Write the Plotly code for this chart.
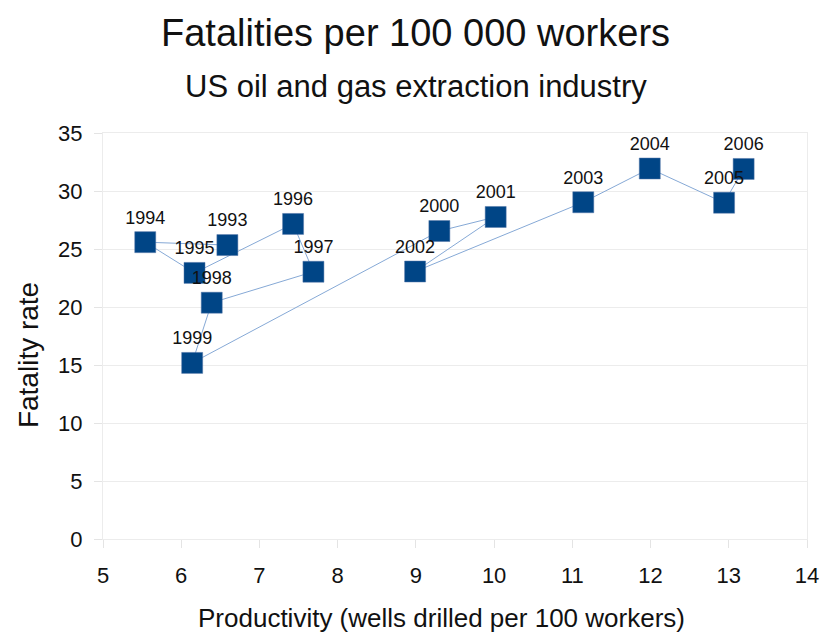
import plotly.graph_objects as go

years = ["1993", "1994", "1995", "1996", "1997", "1998", "1999",
         "2000", "2001", "2002", "2003", "2004", "2005", "2006"]
productivity = [6.59, 5.54, 6.17, 7.43, 7.69, 6.39, 6.14,
                9.30, 10.02, 8.99, 11.14, 11.99, 12.94, 13.19]
fatality_rate = [25.34, 25.59, 22.94, 27.16, 23.04, 20.37, 15.18,
                 26.55, 27.76, 23.06, 29.03, 31.94, 28.99, 31.90]

x_ticks = list(range(5, 15))
y_ticks = list(range(0, 36, 5))

FONT = "Liberation Sans, Arial, sans-serif"
INK = "#111111"

fig = go.Figure()
fig.add_trace(go.Scatter(
    x=productivity, y=fatality_rate, text=years,
    mode="lines+markers+text",
    textposition="top center",
    textfont=dict(family=FONT, size=18, color=INK),
    line=dict(color="#86a9d6", width=1),
    marker=dict(symbol="square", size=21, color="#004586",
                line=dict(width=0.5, color="#5577a8")),
    showlegend=False,
    cliponaxis=False,
))

axis_common = dict(
    showline=True, mirror=True, linecolor="#ececec", linewidth=1,
    ticks="outside", ticklen=8, tickcolor="#e4e4e4",
    zeroline=False,
    tickfont=dict(family=FONT, size=22, color=INK),
)

fig.update_layout(
    width=820, height=634,
    margin=dict(l=103, r=13, t=133, b=95, autoexpand=False),
    paper_bgcolor="white", plot_bgcolor="white",
    font=dict(family=FONT, color=INK),
    xaxis=dict(range=[5, 14], tickvals=x_ticks, showgrid=False,
               ticklabelstandoff=9, **axis_common),
    yaxis=dict(range=[0, 35], tickvals=y_ticks,
               showgrid=True, gridcolor="#ececec", gridwidth=1,
               ticklabelstandoff=7, **axis_common),
    annotations=[
        dict(text="Fatalities per 100 000 workers", xref="paper", yref="paper",
             x=0.4446, y=1, yshift=100, xanchor="center", yanchor="middle",
             showarrow=False, font=dict(family=FONT, size=38, color=INK)),
        dict(text="US oil and gas extraction industry", xref="paper", yref="paper",
             x=0.4446, y=1, yshift=47, xanchor="center", yanchor="middle",
             showarrow=False, font=dict(family=FONT, size=31, color=INK)),
        dict(text="Productivity (wells drilled per 100 workers)",
             xref="paper", yref="paper", x=0.4815, y=0, yshift=-79,
             xanchor="center", yanchor="middle", showarrow=False,
             font=dict(family=FONT, size=26, color=INK)),
        dict(text="Fatality rate", xref="paper", yref="paper",
             x=0, xshift=-75, y=0.453, textangle=-90,
             xanchor="center", yanchor="middle", showarrow=False,
             font=dict(family=FONT, size=28, color=INK)),
    ],
)

fig.write_html("out.html", config={"displayModeBar": False},
               post_script="document.body.style.margin='0';")
